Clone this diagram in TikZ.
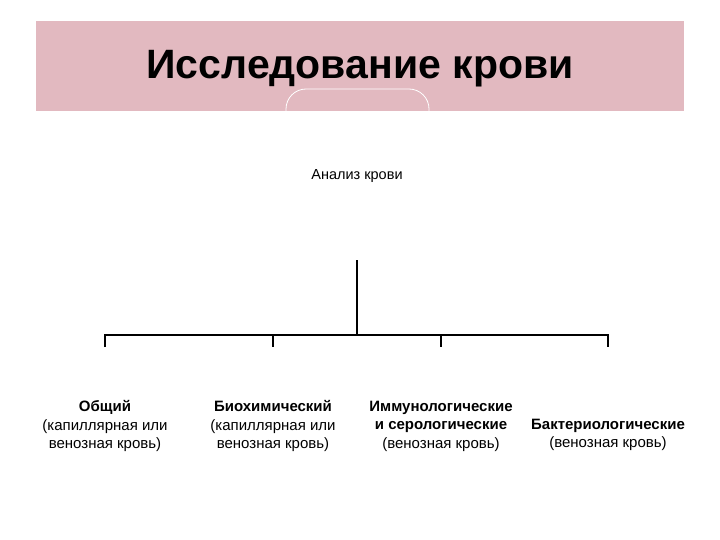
\documentclass[tikz,border=0pt]{standalone}
\usepackage{fontspec}
\setmainfont{Liberation Sans}
\definecolor{band}{HTML}{E2B9C0}
\begin{document}
\begin{tikzpicture}[x=1pt,y=-1pt,
  conn/.style={line width=2pt},
  leaf/.style={align=center,font=\fontsize{15}{18.5}\selectfont,inner sep=0pt}]
\useasboundingbox (0,0) rectangle (720,540);
\fill[band] (36,21) rectangle (684,111);
\node[font=\fontsize{41}{44}\selectfont\bfseries] (title) at (360,69) {Исследование крови};
\begin{scope}
\clip (36,21) rectangle (684,111);
\draw[white,line width=0.8pt,rounded corners=20pt] (286,120) -- (286,89) -- (429,89) -- (429,120);
\end{scope}
\node[font=\fontsize{14.5}{16}\selectfont] (root) at (357,176) {Анализ крови};
\coordinate (top) at (357,260);
\coordinate (mid) at (357,335);
\coordinate (b1) at (105,335);
\coordinate (b2) at (273,335);
\coordinate (b3) at (441,335);
\coordinate (b4) at (608,335);
\coordinate (e1) at (105,347);
\coordinate (e2) at (273,347);
\coordinate (e3) at (441,347);
\coordinate (e4) at (608,347);
\draw[conn] (top) -- (mid);
\draw[conn] (e1) -- (b1) -- (b4) -- (e4);
\draw[conn] (b2) -- (e2);
\draw[conn] (b3) -- (e3);
\node[leaf] (l1) at (105,426) {\textbf{Общий}\\(капиллярная или\\венозная кровь)};
\node[leaf] (l2) at (273,426) {\textbf{Биохимический}\\(капиллярная или\\венозная кровь)};
\node[leaf] (l3) at (441,426) {\textbf{Иммунологические}\\\textbf{и серологические}\\(венозная кровь)};
\node[leaf] (l4) at (608,435) {\textbf{Бактериологические}\\(венозная кровь)};
\end{tikzpicture}
\end{document}
